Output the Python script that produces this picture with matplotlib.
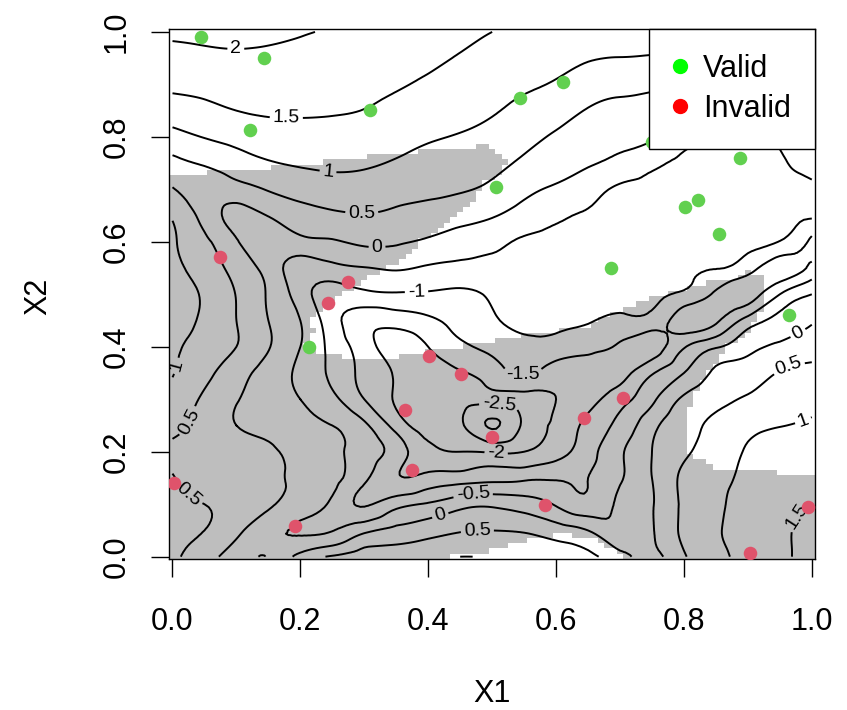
import numpy as np
import matplotlib
matplotlib.use("Agg")
import matplotlib.pyplot as plt
from matplotlib.tri import Triangulation, UniformTriRefiner, LinearTriInterpolator
from matplotlib.colors import ListedColormap
from matplotlib.lines import Line2D

# ---------------- data ----------------
grid_x = [0.0, 0.05, 0.1, 0.15, 0.2, 0.25, 0.3, 0.35, 0.4, 0.45, 0.5,
          0.55, 0.6, 0.65, 0.7, 0.75, 0.8, 0.85, 0.9, 0.95, 1.0]
grid_y = [0.0, 0.05, 0.1, 0.15, 0.2, 0.25, 0.3, 0.35, 0.4, 0.45, 0.5,
          0.55, 0.6, 0.65, 0.7, 0.75, 0.8, 0.85, 0.9, 0.95, 1.0]

# surface values (rows = grid_y, columns = grid_x)
surface_rows = [
    [0.6, 0.2, -0.25, -0.48, 0.17, 0.55, 0.75, 0.88, 0.95, 1.0, 0.98, 0.92, 0.78, 0.6, 0.2, -0.15, 0.45, 0.85, 1.2, 1.42, 1.65],
    [0.65, 0.5, 0.12, -0.35, -0.55, -0.52, -0.12, 0.12, 0.3, 0.47, 0.5, 0.45, 0.25, 0.0, -0.4, -0.05, 0.6, 0.95, 1.25, 1.45, 1.58],
    [0.62, 0.5, 0.3, 0.07, -0.25, -0.6, -1.05, -0.68, -0.45, -0.18, -0.1, -0.25, -0.55, -0.85, -0.4, -0.03, 0.6, 0.93, 1.2, 1.4, 1.5],
    [0.52, 0.35, 0.2, 0.08, -0.07, -0.35, -0.9, -1.45, -1.35, -1.25, -1.15, -1.1, -1.05, -1.0, -0.55, 0.0, 0.6, 0.9, 1.1, 1.3, 1.4],
    [0.45, 0.38, 0.25, 0.07, -0.12, -0.38, -0.7, -1.25, -1.85, -2.0, -2.05, -2.0, -1.7, -1.2, -0.58, 0.0, 0.42, 0.75, 1.05, 1.25, 1.3],
    [0.6, 0.35, 0.0, -0.15, -0.33, -0.5, -0.9, -1.7, -2.2, -2.4, -3.05, -2.4, -1.9, -1.35, -0.85, -0.15, 0.35, 0.6, 0.85, 0.98, 1.08],
    [0.82, 0.42, 0.03, -0.24, -0.5, -0.88, -1.5, -2.05, -2.3, -2.35, -2.3, -2.2, -2.0, -1.7, -1.2, -0.6, 0.1, 0.4, 0.55, 0.7, 0.85],
    [1.02, 0.65, 0.2, -0.2, -0.62, -1.1, -1.65, -2.05, -2.25, -2.05, -1.75, -1.45, -1.75, -1.8, -1.7, -1.05, -0.5, 0.1, 0.28, 0.53, 0.62],
    [1.05, 0.85, 0.5, 0.03, -0.5, -1.15, -1.78, -2.2, -2.0, -1.6, -1.35, -1.1, -1.2, -1.33, -1.6, -1.75, -1.05, -0.55, -0.15, 0.1, 0.3],
    [1.1, 0.93, 0.5, 0.0, -0.5, -1.3, -1.8, -1.8, -1.6, -1.33, -1.07, -0.88, -0.9, -0.97, -1.09, -1.2, -1.75, -1.6, -0.8, -0.35, -0.05],
    [1.1, 0.95, 0.48, -0.05, -0.75, -1.25, -1.12, -1.05, -1.06, -1.1, -0.92, -0.78, -0.82, -0.86, -0.9, -0.95, -1.1, -1.6, -1.75, -1.0, -0.5],
    [1.08, 0.8, 0.32, -0.2, -0.75, -0.65, -0.52, -0.45, -0.56, -0.63, -0.64, -0.66, -0.7, -0.77, -0.82, -0.87, -0.92, -0.98, -1.3, -1.75, -1.35],
    [1.06, 0.6, 0.05, -0.4, -0.15, -0.05, 0.1, 0.06, -0.07, -0.24, -0.38, -0.56, -0.6, -0.66, -0.7, -0.75, -0.83, -0.88, -0.92, -1.02, -1.62],
    [0.95, 0.33, -0.15, 0.02, 0.3, 0.41, 0.48, 0.4, 0.29, 0.19, 0.04, -0.21, -0.42, -0.55, -0.62, -0.67, -0.73, -0.77, -0.82, -0.88, -0.93],
    [0.53, 0.25, 0.3, 0.53, 0.7, 0.79, 0.78, 0.7, 0.63, 0.54, 0.4, 0.12, -0.07, -0.3, -0.57, -0.6, -0.64, -0.68, -0.7, -0.66, -0.57],
    [0.42, 0.55, 0.78, 0.96, 1.05, 1.09, 1.06, 0.96, 0.85, 0.76, 0.64, 0.41, 0.2, 0.05, -0.15, -0.4, -0.6, -0.75, -0.8, -0.55, -0.42],
    [0.82, 1.02, 1.16, 1.28, 1.32, 1.32, 1.28, 1.17, 1.05, 0.97, 0.85, 0.65, 0.44, 0.26, 0.15, 0.08, -0.3, -0.55, -0.7, -0.45, -0.35],
    [1.27, 1.38, 1.5, 1.56, 1.56, 1.54, 1.49, 1.375, 1.24, 1.14, 1.04, 0.87, 0.69, 0.47, 0.37, 0.33, 0.05, -0.3, -0.4, -0.3, -0.15],
    [1.6, 1.65, 1.72, 1.74, 1.72, 1.68, 1.62, 1.54, 1.43, 1.3, 1.19, 1.07, 0.96, 0.77, 0.65, 0.6, 0.4, 0.15, 0.0, 0.05, 0.12],
    [1.85, 1.9, 1.93, 1.91, 1.87, 1.81, 1.75, 1.66, 1.58, 1.47, 1.35, 1.22, 1.12, 1.03, 0.99, 0.97, 0.85, 0.62, 0.45, 0.4, 0.42],
    [2.08, 2.1, 2.12, 2.1, 2.03, 1.96, 1.85, 1.75, 1.66, 1.58, 1.5, 1.4, 1.3, 1.2, 1.12, 1.05, 1.0, 0.92, 0.85, 0.78, 0.72],
]

# gray (invalid-region) indicator: positive = shaded
shade_rows = [
    [2.5, 2.5, 2.5, 2.5, 2.5, 2.5, 2.0, 1.6, 0.2, -0.1, -0.2, -0.5, -0.8, -0.75, -0.1, 1.0, 2.0, 2.5, 2.5, 2.5, 2.5],
    [2.5, 2.5, 2.5, 2.5, 2.5, 2.5, 2.5, 2.0, 1.1, 0.9, 0.8, 0.4, 0.15, 0.25, 0.7, 1.5, 2.5, 2.5, 2.5, 2.5, 2.5],
    [2.5, 2.5, 2.5, 2.5, 2.5, 2.5, 2.5, 2.5, 2.0, 1.9, 1.8, 1.4, 1.2, 1.26, 1.8, 2.5, 2.5, 1.4, 1.2, 1.2, 1.2],
    [2.5, 2.5, 2.5, 2.5, 2.5, 2.5, 2.5, 2.5, 2.5, 2.5, 2.5, 2.5, 2.5, 2.5, 2.5, 2.5, 0.9, 0.4, 0.22, 0.2, 0.18],
    [2.5, 2.5, 2.5, 2.5, 2.5, 2.5, 2.5, 2.5, 2.5, 2.5, 2.5, 2.5, 2.5, 2.5, 2.5, 1.0, 0.05, -0.6, -0.78, -0.8, -0.82],
    [2.5, 2.5, 2.5, 2.5, 2.5, 2.5, 2.5, 2.5, 2.5, 2.5, 2.5, 2.5, 2.5, 2.5, 2.5, 1.0, 0.06, -0.9, -1.76, -1.8, -1.8],
    [2.5, 2.5, 2.5, 2.5, 1.9, 1.6, 1.5, 1.6, 1.8, 2.5, 2.5, 2.5, 2.5, 2.5, 2.0, 1.1, 0.23, -0.67, -1.6, -2.5, -3.0],
    [2.5, 2.5, 2.5, 2.5, 0.9, 0.64, 0.54, 0.6, 0.8, 1.0, 1.2, 1.4, 1.5, 1.6, 2.0, 1.4, 0.6, -0.2, -1.0, -1.8, -2.5],
    [2.5, 2.5, 2.5, 1.0, 0.05, -0.36, -0.46, -0.4, -0.2, -0.02, 0.2, 0.4, 0.55, 0.8, 1.3, 1.8, 1.0, 0.3, -0.45, -1.2, -2.0],
    [2.5, 2.5, 2.5, 1.3, 0.24, -0.46, -1.0, -1.4, -1.2, -1.0, -0.8, -0.6, -0.44, -0.2, 0.3, 0.8, 1.1, 1.2, 0.3, -0.7, -1.6],
    [2.5, 2.5, 2.2, 1.5, 0.94, 0.26, -0.42, -1.1, -1.8, -2.0, -1.8, -1.6, -1.44, -1.2, -0.6, -0.2, 0.15, 0.45, 0.5, -0.44, -1.4],
    [2.5, 2.5, 2.5, 2.3, 1.7, 1.08, 0.48, -0.12, -0.72, -1.3, -1.9, -2.6, -2.4, -2.2, -1.66, -1.2, -0.84, -0.5, -0.12, -0.34, -1.3],
    [2.5, 2.5, 2.5, 2.5, 2.4, 1.8, 1.14, 0.5, -0.13, -0.76, -1.4, -2.0, -3.0, -3.0, -2.7, -2.2, -1.8, -1.5, -1.1, -1.0, -1.3],
    [1.5, 1.6, 1.7, 1.8, 1.9, 2.0, 2.0, 1.4, 0.68, -0.06, -0.8, -1.5, -2.3, -3.0, -3.0, -3.0, -3.0, -3.0, -3.0, -3.0, -3.0],
    [0.48, 0.58, 0.7, 0.8, 0.9, 1.0, 1.2, 1.3, 1.3, 0.55, -0.2, -0.95, -1.7, -2.4, -3.0, -3.0, -3.0, -3.0, -3.0, -3.0, -3.0],
    [-0.5, -0.42, -0.3, -0.2, -0.08, 0.04, 0.18, 0.32, 0.44, 0.56, 0.5, -0.5, -1.5, -2.5, -3.0, -3.0, -3.0, -3.0, -3.0, -3.0, -3.0],
    [-1.5, -1.4, -1.3, -1.2, -1.1, -0.95, -0.8, -0.7, -0.55, -0.45, -0.35, -0.6, -1.6, -2.5, -3.0, -3.0, -3.0, -3.0, -3.0, -3.0, -3.0],
    [-2.5, -2.4, -2.3, -2.2, -2.1, -2.0, -1.8, -1.7, -1.55, -1.45, -1.35, -1.5, -2.2, -3.0, -3.0, -3.0, -3.0, -3.0, -3.0, -3.0, -3.0],
    [-3.0] * 21,
    [-3.0] * 21,
    [-3.0] * 21,
]

valid_x = [0.044, 0.1425, 0.1206, 0.3097, 0.543, 0.611, 0.5065, 0.750, 0.888, 0.801, 0.822, 0.855, 0.686, 0.965, 0.213]
valid_y = [0.991, 0.951, 0.814, 0.851, 0.875, 0.905, 0.705, 0.791, 0.760, 0.667, 0.680, 0.615, 0.551, 0.461, 0.400]
invalid_x = [0.074, 0.275, 0.2425, 0.402, 0.451, 0.364, 0.499, 0.375, 0.0023, 0.191, 0.583, 0.643, 0.705, 0.9945, 0.904]
invalid_y = [0.572, 0.524, 0.483, 0.383, 0.348, 0.280, 0.229, 0.165, 0.141, 0.059, 0.099, 0.265, 0.303, 0.095, 0.007]

contour_levels = [-3.0, -2.5, -2.0, -1.5, -1.0, -0.5, 0.0, 0.5, 1.0, 1.5, 2.0]
tick_values = [0.0, 0.2, 0.4, 0.6, 0.8, 1.0]
tick_labels = ["0.0", "0.2", "0.4", "0.6", "0.8", "1.0"]
legend_labels = ["Valid", "Invalid"]

# label anchor spots (layout only)
label_spots = [(0.099, 0.965), (0.178, 0.834), (0.243, 0.731), (0.296, 0.652),
               (0.32, 0.588), (0.382, 0.495), (0.548, 0.344), (0.51, 0.285),
               (0.506, 0.194), (0.47, 0.121), (0.418, 0.083), (0.477, 0.045),
               (0.012, 0.362), (0.022, 0.26), (0.022, 0.114), (0.977, 0.429),
               (0.967, 0.35), (0.985, 0.264), (0.984, 0.07)]

# ---------------- drawing ----------------
plt.rcParams["font.family"] = ["Liberation Sans", "DejaVu Sans"]
plt.rcParams["contour.negative_linestyle"] = "solid"

fig = plt.figure(figsize=(8.47, 7.10), dpi=100)
ax = fig.add_axes([0.19988, 0.21225, 0.76234, 0.74648])
ax.set_xlim(-0.005, 1.005)
ax.set_ylim(-0.005, 1.005)

# shaded region drawn as a 101x101 raster (like an image() layer)
SX, SY = np.meshgrid(grid_x, grid_y)
shade_interp = LinearTriInterpolator(Triangulation(SX.ravel(), SY.ravel()),
                                     np.array(shade_rows).ravel())
cells = np.linspace(0.0, 1.0, 101)
CX, CY = np.meshgrid(cells, cells)
shade_val = np.asarray(shade_interp(CX, CY))
shade_img = np.ma.masked_where(~(shade_val > 0), np.ones_like(shade_val))
ax.imshow(shade_img, extent=(-0.005, 1.005, -0.005, 1.005), origin="lower",
          interpolation="nearest", cmap=ListedColormap(["#BEBEBE"]),
          aspect="auto", zorder=0)

# contour lines
tri = Triangulation(SX.ravel(), SY.ravel())
tri_f, z_f = UniformTriRefiner(tri).refine_field(np.array(surface_rows).ravel(), subdiv=3)
cs = ax.tricontour(tri_f, z_f, levels=contour_levels, colors="black",
                   linewidths=1.4, linestyles="solid", zorder=1)
ax.clabel(cs, manual=label_spots, fmt=lambda v: f"{v:g}", fontsize=14,
          inline=True, inline_spacing=3)

# points
ax.scatter(valid_x, valid_y, s=95, c="#61D04F", linewidths=0, zorder=3)
ax.scatter(invalid_x, invalid_y, s=95, c="#DF536B", linewidths=0, zorder=3)

# legend
handles = [Line2D([], [], marker="o", color="#00FF00", linestyle="None", markersize=10),
           Line2D([], [], marker="o", color="#FF0000", linestyle="None", markersize=10)]
leg = ax.legend(handles, legend_labels, loc="upper right", borderaxespad=0,
                fontsize=22, frameon=True, fancybox=False, edgecolor="black",
                framealpha=1, borderpad=0.8, labelspacing=0.34,
                handlelength=0.4, handletextpad=0.55)
leg.get_frame().set_linewidth(1.0)
leg.set_zorder(5)

# axes styling
ax.set_xticks(tick_values)
ax.set_xticklabels(tick_labels)
ax.set_yticks(tick_values)
ax.set_yticklabels(tick_labels)
ax.tick_params(axis="both", direction="out", length=13, width=1.0, labelsize=22)
ax.tick_params(axis="x", pad=21)
ax.tick_params(axis="y", pad=14)
for lbl in ax.get_yticklabels():
    lbl.set_rotation(90)
    lbl.set_va("center")
for sp in ax.spines.values():
    sp.set_linewidth(1.0)

ax.set_xlabel("X1", fontsize=22)
ax.set_ylabel("X2", fontsize=22)
ax.xaxis.set_label_coords(0.5, -0.226)
ax.yaxis.set_label_coords(-0.1795, 0.497)

fig.savefig("out.png", dpi=100)
